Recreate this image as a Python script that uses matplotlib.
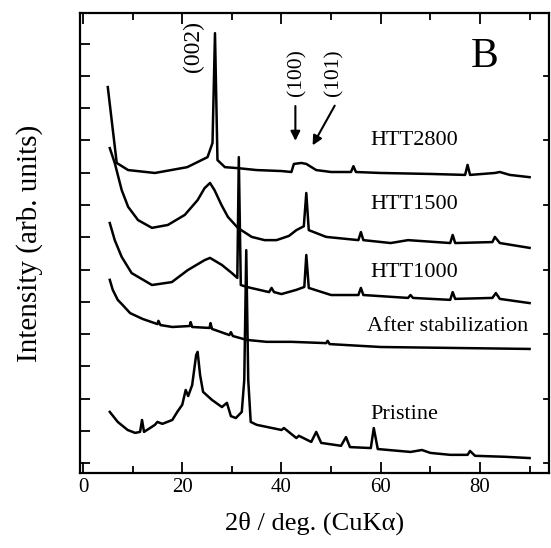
import matplotlib
matplotlib.use("Agg")
import matplotlib.pyplot as plt
from matplotlib.ticker import MultipleLocator, NullFormatter

plt.rcParams['font.family'] = ['Liberation Serif', 'DejaVu Serif']

# XRD patterns (2theta in deg, intensity in arb. units with vertical offsets)
htt2800_x = [5.0, 5.9, 6.8, 9.1, 14.5, 21, 25.1, 26.1, 26.6, 27.1, 28.6, 31.2, 35, 40,
             42.0, 42.5, 44.0, 45.0, 47, 50, 54, 54.5, 55, 60, 70, 77, 77.5, 78, 83, 84, 86, 90]
htt2800_y = [11.65, 10.47, 9.30, 9.08, 8.99, 9.17, 9.48, 9.92, 13.32, 9.39, 9.17, 9.14, 9.08,
             9.05, 9.02, 9.27, 9.30, 9.27, 9.08, 9.02, 9.02, 9.20, 9.02, 8.99, 8.96, 8.93, 9.24,
             8.93, 8.99, 9.02, 8.93, 8.86]

htt1500_x = [5.4, 6.4, 7.8, 9.1, 11.1, 13.9, 17.1, 20.5, 23.1, 24.5, 25.6, 26.5, 27.9, 29.2,
             31.2, 34, 36.6, 39, 41.5, 43, 44.5, 45.0, 45.5, 49, 55.5, 56, 56.5, 62, 65.5, 74,
             74.5, 75, 82.5, 83, 84, 90]
htt1500_y = [9.76, 9.30, 8.46, 7.94, 7.53, 7.29, 7.38, 7.69, 8.15, 8.52, 8.68, 8.46, 8.00, 7.63,
             7.29, 7.01, 6.91, 6.91, 7.04, 7.22, 7.34, 8.37, 7.22, 7.01, 6.91, 7.16, 6.91, 6.82,
             6.91, 6.82, 7.07, 6.82, 6.85, 7.01, 6.82, 6.67]

htt1000_x = [5.4, 6.4, 7.8, 9.8, 13.9, 17.9, 21.1, 24.5, 25.6, 28, 30, 31.1, 31.4, 31.8, 33,
             37.5, 38, 38.5, 40, 43, 44.6, 45.0, 45.5, 50, 55.5, 56, 56.5, 65.5, 66, 66.5, 74,
             74.5, 75, 82.5, 83.2, 84, 90]
htt1000_y = [7.44, 6.91, 6.39, 5.89, 5.52, 5.61, 5.98, 6.29, 6.36, 6.14, 5.89, 5.74, 9.48, 5.52,
             5.46, 5.30, 5.43, 5.30, 5.24, 5.37, 5.46, 6.45, 5.43, 5.21, 5.21, 5.43, 5.21, 5.12,
             5.21, 5.12, 5.06, 5.30, 5.09, 5.12, 5.27, 5.09, 4.96]

stab_x = [5.4, 6.0, 7.0, 8, 9.5, 12, 15, 15.2, 15.6, 18, 21.5, 21.7, 22, 25.5, 25.7, 26, 29.5,
          29.8, 30.2, 33, 37, 42, 49, 49.3, 49.7, 60, 75, 90]
stab_y = [5.68, 5.37, 5.06, 4.90, 4.65, 4.47, 4.31, 4.41, 4.28, 4.22, 4.25, 4.37, 4.22, 4.19,
          4.34, 4.16, 3.97, 4.06, 3.94, 3.82, 3.76, 3.76, 3.72, 3.79, 3.69, 3.60, 3.57, 3.54]

pristine_x = [5.4, 7, 9, 10.5, 11.5, 11.9, 12.3, 14.5, 15, 16, 18, 19, 20, 20.7, 21.2, 22, 22.8,
              23.1, 23.6, 24.2, 26, 28, 29, 29.8, 30.8, 32.0, 32.5, 32.9, 33.3, 33.8, 35, 40,
              40.5, 43, 43.5, 46, 47, 48, 52, 53, 53.8, 58, 58.6, 59.4, 66, 68.3, 70, 74, 77.5,
              78, 79, 85, 90]
pristine_y = [1.59, 1.28, 1.03, 0.94, 0.97, 1.34, 0.97, 1.19, 1.28, 1.22, 1.34, 1.59, 1.81, 2.27,
              2.08, 2.42, 3.35, 3.45, 2.73, 2.21, 1.96, 1.74, 1.87, 1.46, 1.40, 1.59, 2.58, 6.60,
              2.58, 1.28, 1.19, 1.03, 1.09, 0.78, 0.85, 0.66, 0.97, 0.63, 0.54, 0.81, 0.50, 0.47,
              1.09, 0.44, 0.35, 0.41, 0.32, 0.26, 0.26, 0.38, 0.23, 0.20, 0.16]

series = [(htt2800_x, htt2800_y), (htt1500_x, htt1500_y), (htt1000_x, htt1000_y),
          (stab_x, stab_y), (pristine_x, pristine_y)]
labels = ['HTT2800', 'HTT1500', 'HTT1000', 'After stabilization', 'Pristine']
label_pos = [(58.0, 10.0), (58.0, 8.0), (58.0, 5.9), (57.3, 4.25), (58.0, 1.5)]

fig = plt.figure(figsize=(5.51, 5.48), dpi=100)
ax = fig.add_axes([0.1452, 0.137, 0.852, 0.839])

for x, y in series:
    ax.plot(x, y, color='black', lw=1.8, solid_joinstyle='round')

for text, (tx, ty) in zip(labels, label_pos):
    ax.text(tx, ty, text, fontsize=16, va='center', ha='left')

ax.text(22.3, 12.9, '(002)', rotation=90, fontsize=17, ha='center', va='center')
ax.text(43.0, 12.1, '(100)', rotation=90, fontsize=15.5, ha='center', va='center')
ax.text(50.6, 12.1, '(101)', rotation=90, fontsize=15.5, ha='center', va='center')
ax.annotate('', xy=(42.8, 9.9), xytext=(42.8, 11.15),
            arrowprops=dict(arrowstyle='-|>', color='black', lw=1.5, mutation_scale=14))
ax.annotate('', xy=(46.0, 9.77), xytext=(51.0, 11.15),
            arrowprops=dict(arrowstyle='-|>', color='black', lw=1.5, mutation_scale=14))
ax.text(81.0, 12.6, 'B', fontsize=30, ha='center', va='center')

ax.set_xlim(-0.6, 94.0)
ax.set_ylim(-0.3, 13.94)
ax.xaxis.set_major_locator(MultipleLocator(20))
ax.xaxis.set_minor_locator(MultipleLocator(10))
ax.yaxis.set_major_locator(MultipleLocator(1))
ax.yaxis.set_major_formatter(NullFormatter())
ax.tick_params(axis='x', which='major', direction='in', length=8, width=1.3, top=True,
               labelsize=15, pad=4)
ax.tick_params(axis='x', which='minor', direction='in', length=5, width=1.3, top=True)
ax.tick_params(axis='y', which='major', direction='in', length=7, width=1.3, right=False)

# short ticks on the right spine at every second level
for v in range(0, 14, 2):
    ax.plot([93.0, 94.0], [v, v], color='black', lw=1.3, clip_on=False)

for sp in ax.spines.values():
    sp.set_linewidth(1.6)

ax.set_xlabel('2θ / deg. (CuKα)', fontsize=19, labelpad=10)
ax.set_ylabel('Intensity (arb. units)', fontsize=21)
ax.yaxis.set_label_coords(-0.078, 0.5)

fig.savefig('out.png', dpi=100)
